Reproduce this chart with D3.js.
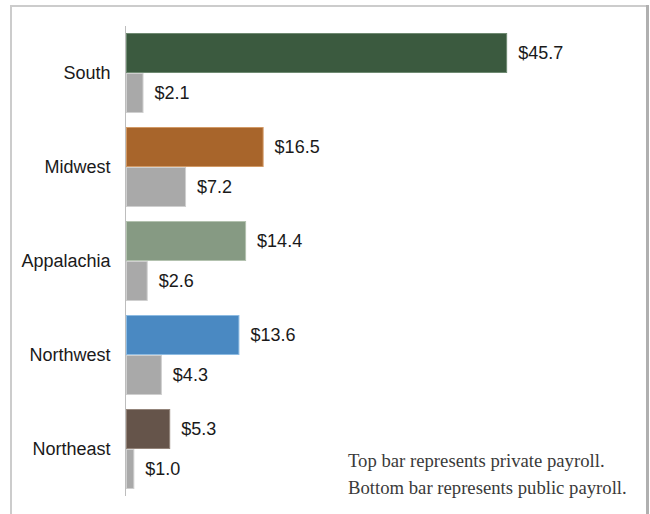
<!DOCTYPE html>
<html>
<head>
<meta charset="utf-8">
<script src="https://cdn.jsdelivr.net/npm/d3@7"></script>
<style>
  html, body { margin: 0; padding: 0; background: #fff; }
  svg { display: block; }
</style>
</head>
<body>
<svg id="chart" width="650" height="514"></svg>
<script>
// Payroll by region, in $ (billions)
const regions = ["South", "Midwest", "Appalachia", "Northwest", "Northeast"];
const privatePayroll = [45.7, 16.5, 14.4, 13.6, 5.3];
const publicPayroll = [2.1, 7.2, 2.6, 4.3, 1.0];
const privateColors = ["#3b5a3f", "#a8652b", "#869a83", "#4a89c2", "#65544a"];
const privateStrokes = ["#6f8a72", "#d29a66", "#b3c2af", "#8dbbe2", "#93847a"];
const publicColor = "#a9a9a9";
const publicStroke = "#cfcfcf";
const series = ["private", "public"];
const noteLines = ["Top bar represents private payroll.", "Bottom bar represents public payroll."];

const svg = d3.select("#chart");

// Frame around the plot
svg.append("path")
  .attr("d", "M11,514 V6 H646")
  .attr("fill", "none")
  .attr("stroke", "#cccccc")
  .attr("stroke-width", 2);
svg.append("line")
  .attr("x1", 647.5).attr("x2", 647.5)
  .attr("y1", 5).attr("y2", 514)
  .attr("stroke", "#b0b0b0")
  .attr("stroke-width", 3);

const x = d3.scaleLinear().domain([0, 50]).range([126, 543]);
const y = d3.scaleBand().domain(regions).range([26, 496])
  .paddingInner(0.149).paddingOuter(0.0745);
const ySub = d3.scaleBand().domain(series).range([0, y.bandwidth()]);

const rows = regions.map((r, i) => ({
  region: r,
  bars: [
    { key: "private", value: privatePayroll[i], fill: privateColors[i], stroke: privateStrokes[i] },
    { key: "public", value: publicPayroll[i], fill: publicColor, stroke: publicStroke }
  ]
}));

const groups = svg.selectAll("g.region")
  .data(rows)
  .join("g")
  .attr("class", "region")
  .attr("transform", d => `translate(0,${y(d.region)})`);

groups.selectAll("rect")
  .data(d => d.bars)
  .join("rect")
  .attr("x", x(0) + 0.5)
  .attr("y", d => ySub(d.key) + 0.5)
  .attr("width", d => x(d.value) - x(0) - 1)
  .attr("height", ySub.bandwidth() - 1)
  .attr("fill", d => d.fill)
  .attr("stroke", d => d.stroke)
  .attr("stroke-width", 1);

groups.selectAll("text.value")
  .data(d => d.bars)
  .join("text")
  .attr("class", "value")
  .attr("x", d => x(d.value) + 11)
  .attr("y", d => ySub(d.key) + ySub.bandwidth() / 2)
  .attr("dy", "0.36em")
  .attr("font-family", "'Liberation Sans', Arial, sans-serif")
  .attr("font-size", 18)
  .attr("fill", "#1a1a1a")
  .text(d => "$" + d3.format(".1f")(d.value));

// Category axis
const yAxis = d3.axisLeft(y).tickSize(0).tickPadding(15);
const axisG = svg.append("g")
  .attr("transform", `translate(${x(0) - 0.5},0)`)
  .call(yAxis);
axisG.select(".domain")
  .attr("stroke", "#bdbdbd")
  .attr("stroke-width", 1)
  .attr("d", `M0,26V496`);
axisG.selectAll(".tick text")
  .attr("font-family", "'Liberation Sans', Arial, sans-serif")
  .attr("font-size", 18)
  .attr("fill", "#1a1a1a");

// Note
svg.append("g")
  .selectAll("text")
  .data(noteLines)
  .join("text")
  .attr("x", 348)
  .attr("y", (d, i) => 467 + i * 27)
  .attr("font-family", "'Liberation Serif', 'Times New Roman', serif")
  .attr("font-size", 18.7)
  .attr("fill", "#3a3a3a")
  .text(d => d);
</script>
</body>
</html>
